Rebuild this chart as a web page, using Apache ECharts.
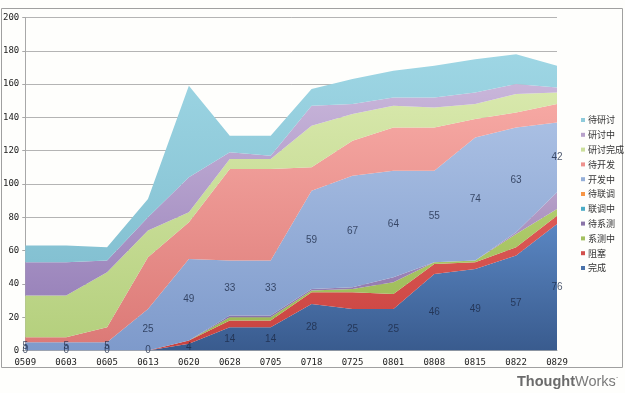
<!DOCTYPE html>
<html>
<head>
<meta charset="utf-8">
<script src="https://cdn.jsdelivr.net/npm/echarts@6/dist/echarts.min.js"></script>
<style>
html,body{margin:0;padding:0;background:#fefefc;}
#chart{width:625px;height:393px;}
</style>
</head>
<body>
<div id="chart"></div>
<script>
const categories = ['0509','0603','0605','0613','0620','0628','0705','0718','0725','0801','0808','0815','0822','0829'];
const yTicks = [0,20,40,60,80,100,120,140,160,180,200];

const done        = [0,0,0,0,4,14,14,28,25,25,46,49,57,76];   // 完成
const blocked     = [0,0,0,0,2,4,4,7,10,9,6,4,5,5];           // 阻塞
const sysTesting  = [0,0,0,0,0,2,2,1,2,7,1,1,8,4];            // 系测中
const sysWaiting  = [0,0,0,0,0,1,1,1,1,3,0,0,1,10];           // 待系测
const integrating = [0,0,0,0,0,0,0,0,0,0,0,0,0,0];            // 联调中
const intWaiting  = [0,0,0,0,0,0,0,0,0,0,0,0,0,0];            // 待联调
const developing  = [5,5,5,25,49,33,33,59,67,64,55,74,63,42]; // 开发中
const devWaiting  = [3,3,9,31,22,55,55,14,21,26,26,11,9,11];  // 待开发
const discussDone = [25,25,33,16,6,6,6,25,16,13,12,9,11,7];   // 研讨完成
const discussing  = [20,20,7,8,21,4,2,12,6,5,6,7,6,3];        // 研讨中
const discussWait = [10,10,8,11,55,10,12,10,15,16,19,20,18,13]; // 待研讨

const seriesNames = ['完成','阻塞','系测中','待系测','联调中','待联调','开发中','待开发','研讨完成','研讨中','待研讨'];
const seriesData = [done,blocked,sysTesting,sysWaiting,integrating,intWaiting,developing,devWaiting,discussDone,discussing,discussWait];
const baseColors = ['#4a72aa','#d24f4c','#a3c05f','#8a74a8','#4bacc6','#f79646','#95afd8','#ee928e','#cbdf9c','#b8a2cb','#8fcbdb'];
const gradTop    = ['#5a86c2','#dc5a56','#b0cc6c','#b7a0c9','#5cb9d0','#f8a45c','#a9bfe3','#f6a8a3','#d8e8ac','#c9b6da','#9ed6e4'];
const gradBot    = ['#395b8e','#c8423f','#97b552','#7f66a0','#3f9fba','#ee8535','#7e9acb','#dc7a77','#b5d07e','#9a84bb','#84c1d2'];

function grad(i){
  return new echarts.graphic.LinearGradient(0,0,0,1,[{offset:0,color:gradTop[i]},{offset:1,color:gradBot[i]}]);
}

const series = seriesNames.map((name,i)=>({
  name: name,
  type: 'line',
  stack: 'total',
  data: seriesData[i],
  symbol: 'none',
  showSymbol: false,
  color: baseColors[i],
  lineStyle: {width: 0},
  areaStyle: {color: grad(i), opacity: 1},
  z: 2
}));

// label positions at the centre of each labelled band
const devIdx = seriesNames.indexOf('开发中');
const doneLabelPts = done.map((v,j)=>[categories[j], v/2, v]);
const devLabelPts = developing.map((v,j)=>{
  let base = 0;
  for(let k=0;k<devIdx;k++) base += seriesData[k][j];
  return [categories[j], base + v/2, v];
});
const labelStyle = {
  show: true, position: 'inside',
  formatter: p => String(p.value[2]),
  color: '#1d2b47', fontSize: 10, fontFamily: 'Liberation Sans'
};
series.push({
  name: 'doneLabels', type: 'scatter', data: doneLabelPts,
  symbolSize: 1, itemStyle: {color: 'rgba(0,0,0,0)'},
  label: labelStyle, z: 5, silent: true
});
series.push({
  name: 'devLabels', type: 'scatter', data: devLabelPts,
  symbolSize: 1, itemStyle: {color: 'rgba(0,0,0,0)'},
  label: labelStyle, z: 5, silent: true
});

const chart = echarts.init(document.getElementById('chart'), null, {renderer: 'canvas'});
chart.setOption({
  backgroundColor: '#fefefc',
  animation: false,
  grid: {left: 23, right: 68, top: 17.5, bottom: 42.5, containLabel: false},
  xAxis: {
    type: 'category', data: categories, boundaryGap: false,
    axisLine: {show: true, lineStyle: {color: '#a8a8a8'}},
    axisTick: {show: false},
    axisLabel: {color: '#222', fontSize: 9, fontFamily: 'DejaVu Sans Mono', margin: 8, interval: 0}
  },
  yAxis: {
    type: 'value', min: yTicks[0], max: yTicks[yTicks.length-1], interval: 20,
    axisLine: {show: true, lineStyle: {color: '#a8a8a8'}},
    axisTick: {show: true, length: 3, lineStyle: {color: '#a8a8a8'}},
    splitLine: {show: true, lineStyle: {color: '#b4b4b4', width: 1}},
    axisLabel: {color: '#222', fontSize: 9, fontFamily: 'DejaVu Sans Mono', margin: 6}
  },
  legend: {
    orient: 'vertical', left: 576, top: 109,
    data: seriesNames.slice().reverse(),
    icon: 'rect', itemWidth: 4, itemHeight: 4, itemGap: 2.8,
    textStyle: {fontSize: 9, lineHeight: 12, color: '#333', fontFamily: 'Noto Sans CJK SC', padding: [0,0,0,-2]},
    selectedMode: false
  },
  graphic: [
    {type: 'rect', shape: {x: 1.5, y: 8.5, width: 621, height: 359}, style: {fill: 'none', stroke: '#a0a0a0', lineWidth: 1}, z: -1, silent: true},
    {type: 'text', left: 517, top: 374, style: {
      text: '{b|Thought}{r|Works}{s|·}',
      rich: {
        b: {fontSize: 14.5, fontWeight: 'bold', fontFamily: 'Liberation Sans', fill: '#6b6b6b'},
        r: {fontSize: 14.5, fontFamily: 'Liberation Sans', fill: '#7a7a7a'},
        s: {fontSize: 8, fontFamily: 'Liberation Sans', fill: '#7a7a7a', verticalAlign: 'top'}
      }
    }, silent: true}
  ],
  series: series
});
</script>
</body>
</html>
